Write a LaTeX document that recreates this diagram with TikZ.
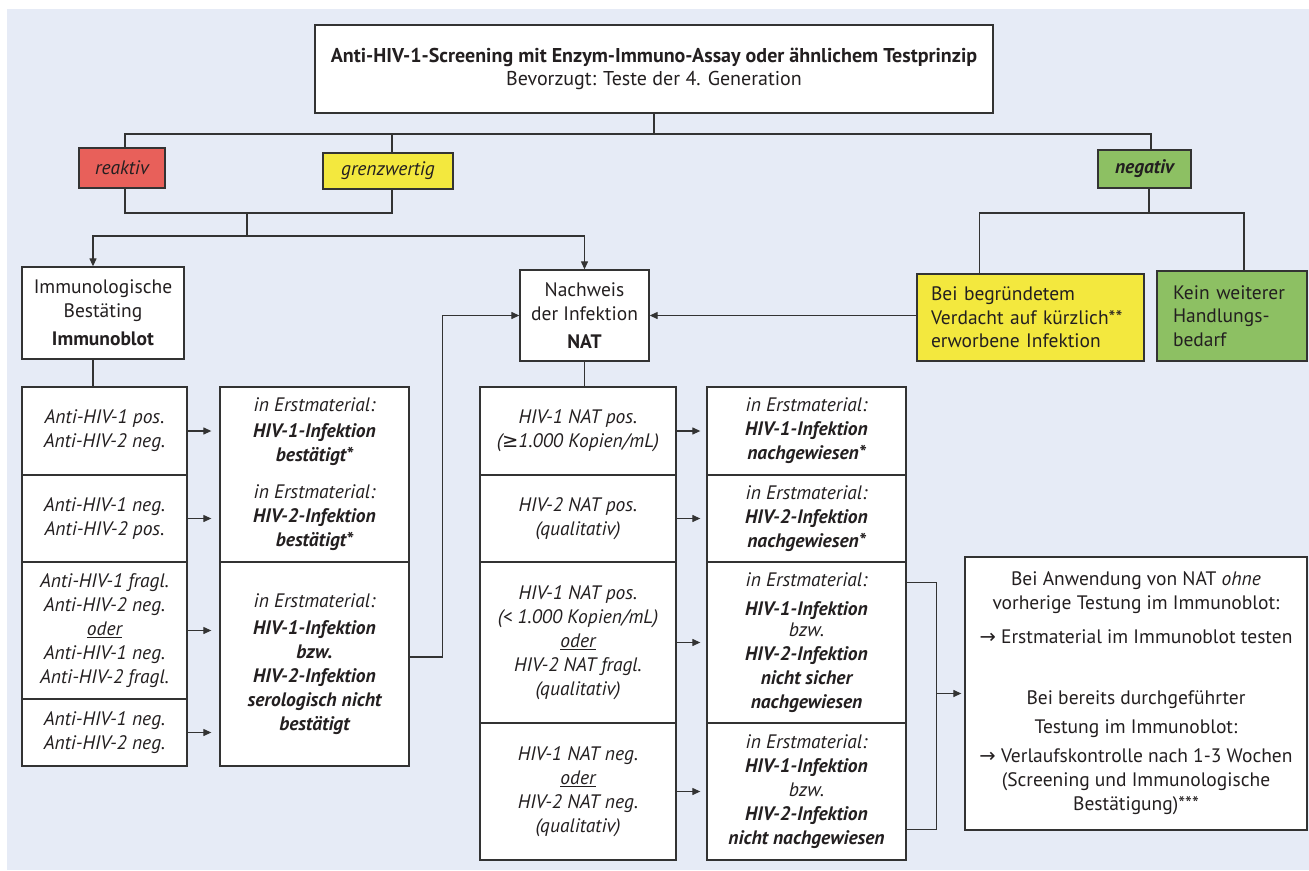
\documentclass[tikz,border=0pt]{standalone}
\usepackage{fontspec}
\setmainfont{PT Sans}
\newfontfamily\symfont{DejaVu Sans}
\usetikzlibrary{arrows.meta}
\definecolor{bgblue}{HTML}{E6EBF6}
\definecolor{redbox}{HTML}{E8605A}
\definecolor{yellowbox}{HTML}{F3E83E}
\definecolor{greenbox}{HTML}{8DC063}
\definecolor{linegray}{HTML}{333333}
\definecolor{textgray}{HTML}{231F20}
\newcommand{\toarrow}{{\symfont →}}
\newcommand{\geqsym}{{\symfont ≥}}
\tikzset{
  box/.style={draw=linegray, line width=1.3pt, fill=white, inner sep=0pt, align=center,
    text=textgray, font=\fontsize{19.5}{24}\selectfont},
  sz/.style 2 args={minimum width=#1pt, minimum height=#2pt},
  itbox/.style={box, font=\fontsize{19.5}{24}\selectfont\itshape},
  conn/.style={draw=linegray, line width=1.2pt},
  arr/.style={conn, -{Triangle[length=8pt,width=7pt]}},
}
\begin{document}
\begin{tikzpicture}[x=1pt,y=-1pt]
    \useasboundingbox (0,0) rectangle (1309,870);
    \fill[bgblue] (7,9) rectangle (1309,870);
    \node[box, sz={678}{88}, font=\fontsize{20}{23}\selectfont] (screen) at (654,69)
      {\textbf{Anti-HIV-1-Screening mit Enzym-Immuno-Assay oder ähnlichem Testprinzip}\\Bevorzugt: Teste der 4. Generation};
    \node[itbox, sz={86}{40}, fill=redbox] (reaktiv) at (122,168) {reaktiv};
    \node[itbox, sz={130}{36}, fill=yellowbox] (grenz) at (388,171) {grenzwertig};
    \node[itbox, sz={93}{38}, fill=greenbox, font=\fontsize{19.5}{24}\selectfont\itshape\bfseries] (negativ) at (1144.5,169) {negativ};
    \node[box, sz={162}{92}] (immuno) at (103,313) {Immunologische\\Bestäting\\[4pt]\textbf{Immunoblot}};
    \node[box, sz={129}{91}] (nat) at (584.5,315.5) {Nachweis\\der Infektion\\[4pt]\textbf{NAT}};
    \node[box, sz={227}{87}, fill=yellowbox, align=left, text width=199pt, font=\fontsize{19.5}{23.5}\selectfont] (verdacht) at (1030.5,317.5)
      {Bei begründetem\\Verdacht auf kürzlich**\\erworbene Infektion};
    \node[box, sz={150}{90}, fill=greenbox, align=left, text width=118pt, font=\fontsize{19.5}{23.5}\selectfont] (keinbedarf) at (1232,316)
      {Kein weiterer\\Handlungs-\\bedarf};
    \node[itbox, sz={165}{88}] (a1) at (104.5,431) {Anti-HIV-1 pos.\\Anti-HIV-2 neg.};
    \node[itbox, sz={165}{87}] (a2) at (104.5,518.5) {Anti-HIV-1 neg.\\Anti-HIV-2 pos.};
    \node[itbox, sz={165}{137}] (a3) at (104.5,630.5) {Anti-HIV-1 fragl.\\Anti-HIV-2 neg.\\\underline{oder}\\Anti-HIV-1 neg.\\Anti-HIV-2 fragl.};
    \node[itbox, sz={165}{67}] (a4) at (104.5,732.5) {Anti-HIV-1 neg.\\Anti-HIV-2 neg.};
    \node[itbox, sz={189}{175}] (b1) at (314.5,474.5)
      {in Erstmaterial:\\[2pt]\textbf{HIV-1-Infektion}\\\textbf{bestätigt*}\\[13pt]in Erstmaterial:\\\textbf{HIV-2-Infektion}\\\textbf{bestätigt*}};
    \node[itbox, sz={189}{204}] (b2) at (314.5,664)
      {in Erstmaterial:\\[3pt]\textbf{HIV-1-Infektion}\\\textbf{bzw.}\\\textbf{HIV-2-Infektion}\\\textbf{serologisch nicht}\\\textbf{bestätigt}};
    \node[itbox, sz={196}{88}] (c1) at (578,431) {HIV-1 NAT pos.\\(\geqsym1.000 Kopien/mL)};
    \node[itbox, sz={196}{87}] (c2) at (578,518.5) {HIV-2 NAT pos.\\(qualitativ)};
    \node[itbox, sz={196}{161}] (c3) at (578,642.5) {HIV-1 NAT pos.\\(< 1.000 Kopien/mL)\\\underline{oder}\\HIV-2 NAT fragl.\\(qualitativ)};
    \node[itbox, sz={196}{137}] (c4) at (578,791.5) {HIV-1 NAT neg.\\\underline{oder}\\HIV-2 NAT neg.\\(qualitativ)};
    \node[itbox, sz={199}{88}] (d1) at (806.5,431) {in Erstmaterial:\\\textbf{HIV-1-Infektion}\\\textbf{nachgewiesen*}};
    \node[itbox, sz={199}{87}] (d2) at (806.5,518.5) {in Erstmaterial:\\\textbf{HIV-2-Infektion}\\\textbf{nachgewiesen*}};
    \node[itbox, sz={199}{161}] (d3) at (806.5,642.5)
      {in Erstmaterial:\\[5pt]\textbf{HIV-1-Infektion}\\[-3pt]bzw.\\\textbf{HIV-2-Infektion}\\\textbf{nicht sicher}\\\textbf{nachgewiesen}};
    \node[itbox, sz={199}{137}] (d4) at (806.5,791.5)
      {in Erstmaterial:\\\textbf{HIV-1-Infektion}\\bzw.\\\textbf{HIV-2-Infektion}\\\textbf{nicht nachgewiesen}};
    \node[box, sz={342}{273}] (fin) at (1136,693.5)
      {Bei Anwendung von NAT \textit{ohne}\\vorherige Testung im Immunoblot:\\[10pt]\toarrow\ Erstmaterial im Immunoblot testen\\[37pt]
       Bei bereits durchgeführter\\[5pt]Testung im Immunoblot:\\[5pt]\toarrow\ Verlaufskontrolle nach 1-3 Wochen\\(Screening und Immunologische\\Bestätigung)***};
    \coordinate (tj) at (654,134);
    \coordinate (rj) at (247,213);
    \coordinate (rs) at (247,236);
    \coordinate (nj) at (1149,213);
    \draw[conn] (screen) -- (tj);
    \draw[conn] ([xshift=3pt]reaktiv.north) |- (tj) -| ([xshift=6.5pt]negativ.north);
    \draw[conn] ([xshift=4pt]grenz.north) -- ([xshift=4pt]grenz.north |- tj);
    \draw[conn] ([xshift=3pt]reaktiv.south) |- (rj) -| ([xshift=4pt]grenz.south);
    \draw[conn] (rj) -- (rs);
    \draw[arr] (rs) -| ([xshift=-10pt]immuno.north);
    \draw[arr] (rs) -| (nat);
    \draw[conn] ([xshift=4.5pt]negativ.south) -- (nj);
    \draw[conn] ([xshift=-51pt]verdacht.north) |- (nj) -| ([xshift=12pt]keinbedarf.north);
    \draw[arr] (verdacht.west |- nat) -- (nat.east);
    \draw[conn] ([xshift=-10pt]immuno.south) -- ([xshift=-10pt]immuno.south |- a1.north);
    \foreach \r/\t in {a1/b1,a2/b1,a3/b2,a4/b2}
      \draw[arr, shorten >=8pt] (\r.east) -- (\r.east -| \t.west);
    \draw[arr] ([yshift=7pt]b2.east) -- ++(33,0) |- (nat);
    \draw[conn] (nat) -- (nat |- c1.north);
    \foreach \r/\t in {c1/d1,c2/d2,c3/d3,c4/d4}
      \draw[arr, shorten >=6pt] (\r.east) -- (\r.east -| \t.west);
    \draw[conn] ([yshift=-21pt]d3.north east) -- ++(30,0) coordinate (dbus) |- ([yshift=31pt]d4.south east);
    \draw[arr, shorten >=3pt] (dbus |- fin.west) -- (fin.west);
\end{tikzpicture}
\end{document}
